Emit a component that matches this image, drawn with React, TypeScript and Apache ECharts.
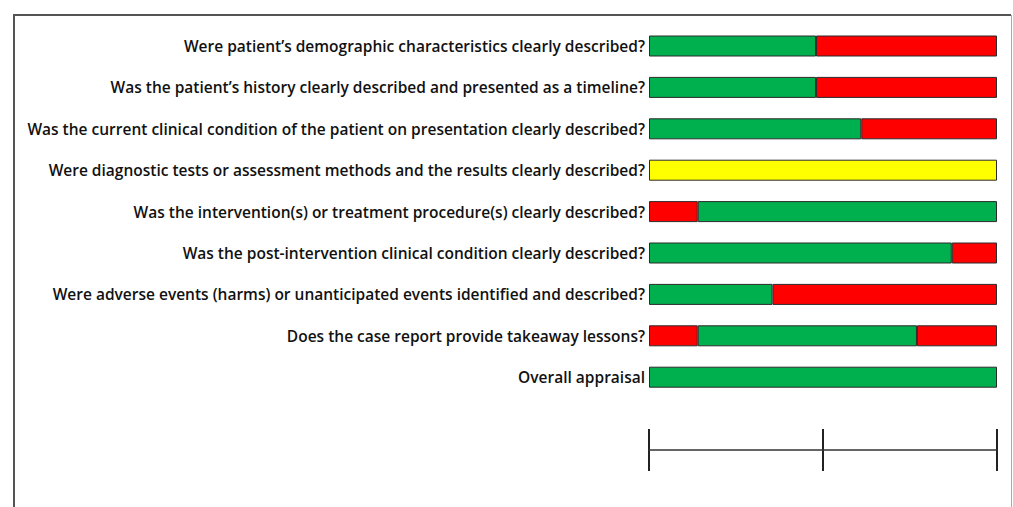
import React, { useEffect, useRef } from "react";
import * as echarts from "echarts";

const categories = [
  "Were patient’s demographic characteristics clearly described?",
  "Was the patient’s history clearly described and presented as a timeline?",
  "Was the current clinical condition of the patient on presentation clearly described?",
  "Were diagnostic tests or assessment methods and the results clearly described?",
  "Was the intervention(s) or treatment procedure(s) clearly described?",
  "Was the post-intervention clinical condition clearly described?",
  "Were adverse events (harms) or unanticipated events identified and described?",
  "Does the case report provide takeaway lessons?",
  "Overall appraisal",
];

const redFirst = [null, null, null, null, 14, null, null, 14, null];
const greenValues = [48, 48, 61, null, 86, 87, 35.5, 63, 100];
const yellowValues = [null, null, null, 100, null, null, null, null, null];
const redLast = [52, 52, 39, null, null, 13, 64.5, 23, null];
const scaleTicks = [0, 50, 100];

const GREEN = "#00b04f";
const RED = "#ff0000";
const YELLOW = "#ffff00";

export default function App() {
  const ref = useRef<HTMLDivElement>(null);
  useEffect(() => {
    if (!ref.current) return;
    const chart = echarts.init(ref.current, undefined, { renderer: "svg" });
    const itemStyle = (c: string) => ({ color: c, borderColor: "#2b2b2b", borderWidth: 1 });
    const mk = (name: string, data: any[], c: string) => ({
      name,
      type: "bar",
      stack: "all",
      xAxisIndex: 0,
      yAxisIndex: 0,
      barWidth: 21,
      data,
      itemStyle: itemStyle(c),
      emphasis: { disabled: true },
    });
    chart.setOption({
      animation: false,
      backgroundColor: "#ffffff",
      grid: [
        { left: 649, right: 16, top: 25.3, height: 372.6 },
        { left: 649, right: 16, top: 429, height: 42 },
      ],
      xAxis: [
        {
          gridIndex: 0,
          type: "value",
          min: 0,
          max: 100,
          show: false,
        },
        {
          gridIndex: 1,
          type: "value",
          min: scaleTicks[0],
          max: scaleTicks[scaleTicks.length - 1],
          interval: scaleTicks[1] - scaleTicks[0],
          position: "bottom",
          offset: -21,
          axisLine: { show: true, lineStyle: { color: "#333", width: 1.5 } },
          axisTick: { show: false },
          axisLabel: { show: false },
          splitLine: { show: true, lineStyle: { color: "#222", width: 2 } },
        },
      ],
      yAxis: [
        {
          gridIndex: 0,
          type: "category",
          inverse: true,
          data: categories,
          axisLine: { show: false },
          axisTick: { show: false },
          axisLabel: {
            margin: 4,
            fontFamily: "Open Sans",
            fontWeight: 600,
            fontSize: 15.5,
            color: "#111",
          },
        },
        {
          gridIndex: 1,
          type: "value",
          show: false,
          min: 0,
          max: 1,
        },
      ],
      series: [
        mk("Red (first)", redFirst, RED),
        mk("Green", greenValues, GREEN),
        mk("Yellow", yellowValues, YELLOW),
        mk("Red (last)", redLast, RED),
      ],
      graphic: [
        {
          type: "polyline",
          shape: { points: [[14, 507], [14, 15], [1011, 15]] },
          style: { stroke: "#555", lineWidth: 2, fill: "none" },
          silent: true,
        },
        {
          type: "line",
          shape: { x1: 1011.5, y1: 15, x2: 1011.5, y2: 507 },
          style: { stroke: "#aaa", lineWidth: 1 },
          silent: true,
        },
      ],
    });
    return () => chart.dispose();
  }, []);
  return (
    <div
      ref={ref}
      style={{ position: "fixed", left: 0, top: 0, width: 1013, height: 507 }}
    />
  );
}
